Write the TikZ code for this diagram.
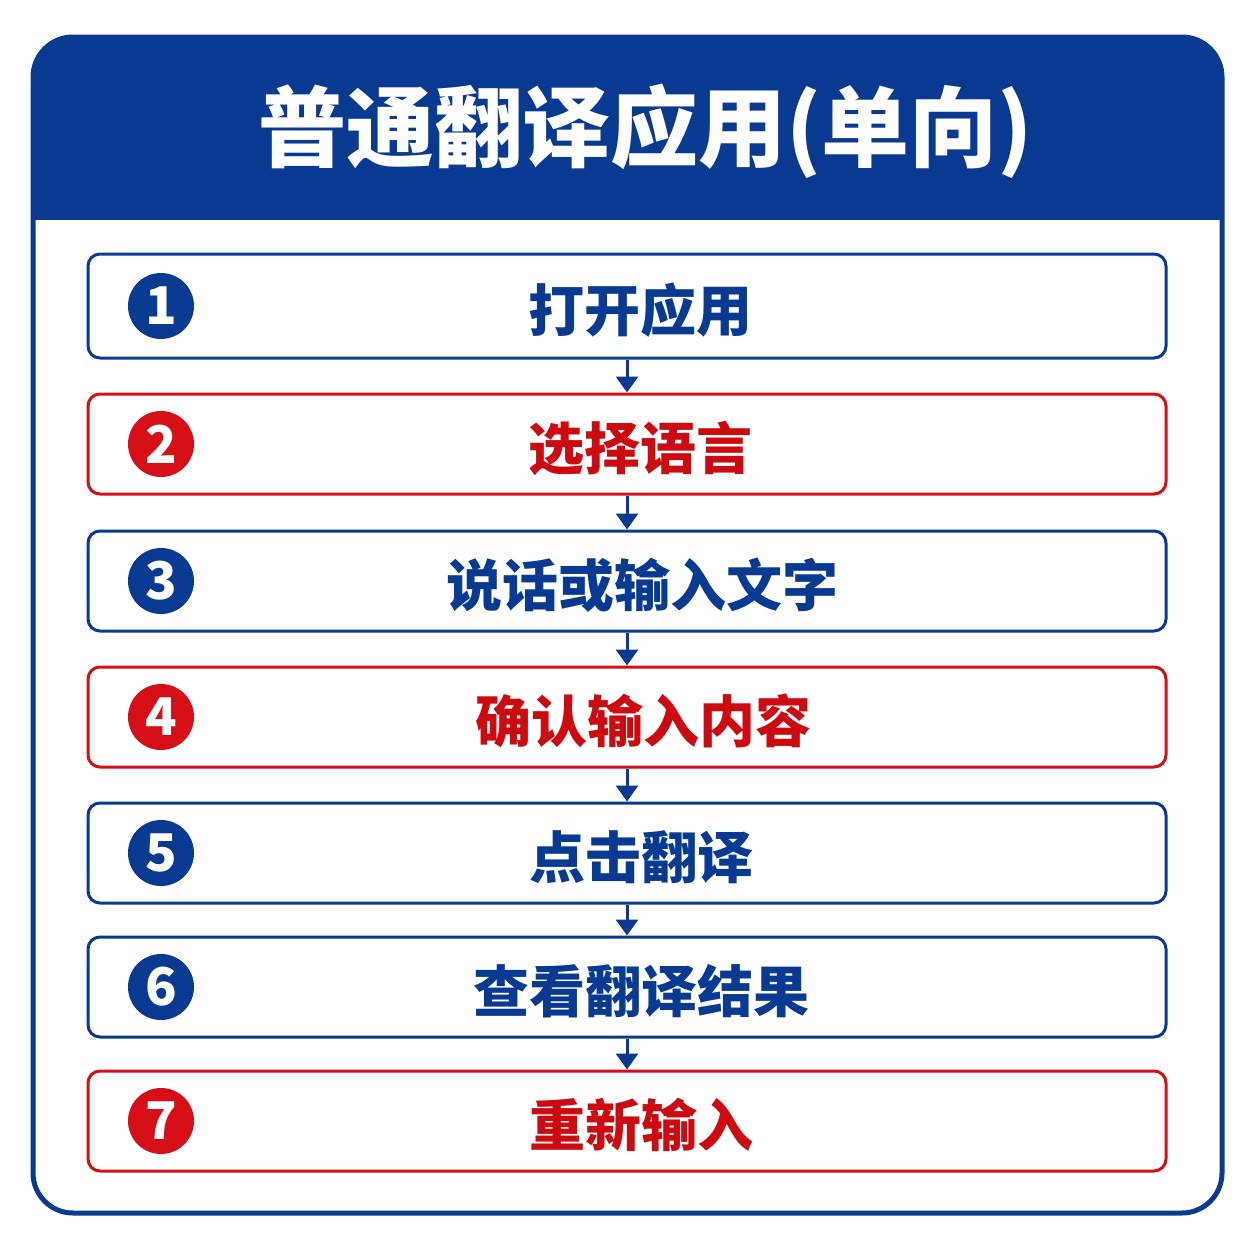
\documentclass[tikz,border=0pt]{standalone}
\usepackage{fontspec}
\setmainfont{Noto Sans CJK SC}
\usetikzlibrary{arrows.meta}
\definecolor{hdrblue}{RGB}{8,58,146}
\definecolor{stepred}{RGB}{214,14,22}
\definecolor{textred}{RGB}{204,10,16}
\tikzset{
  stepbox/.style={draw, line width=1.5pt, rounded corners=6pt, minimum width=539pt, minimum height=50pt, inner sep=0pt, fill=white},
  bluebox/.style={stepbox, draw=hdrblue},
  redbox/.style={stepbox, draw=stepred},
  numdot/.style={circle, inner sep=0pt, minimum size=33pt, text=white, font=\fontsize{26}{26}\selectfont\bfseries},
  steptext/.style={inner sep=0pt, font=\fontsize{28}{30}\selectfont\bfseries},
  flow/.style={hdrblue, line width=1.5pt, -{Triangle[width=11pt,length=8pt]}}
}
\begin{document}
\begin{tikzpicture}[x=0.5pt, y=-0.5pt]
\useasboundingbox (0,0) rectangle (1254,1254);
\begin{scope}
\clip[rounded corners=20pt] (33,37) rectangle (1222,1213);
\fill[white] (0,0) rectangle (1254,1254);
\fill[hdrblue] (0,0) rectangle (1254,220);
\end{scope}
\draw[hdrblue, line width=2.5pt, rounded corners=20pt] (33,37) rectangle (1222,1213);
\node[inner sep=0pt, text=white, font=\fontsize{44}{48}\selectfont\bfseries] (title) at (646,131) {普通翻译应用(单向)};

\node[bluebox, minimum height=52pt] (b1) at (627,306) {};
\node[numdot, fill=hdrblue] (n1) at (161,306) {1};
\node[steptext, text=hdrblue] (t1) at (640,310) {打开应用};

\node[redbox] (b2) at (627,444) {};
\node[numdot, fill=stepred] (n2) at (161,444) {2};
\node[steptext, text=textred] (t2) at (640,448) {选择语言};

\node[bluebox] (b3) at (627,581) {};
\node[numdot, fill=hdrblue] (n3) at (161,581) {3};
\node[steptext, text=hdrblue] (t3) at (642,585) {说话或输入文字};

\node[redbox] (b4) at (627,717) {};
\node[numdot, fill=stepred] (n4) at (161,717) {4};
\node[steptext, text=textred] (t4) at (643,721) {确认输入内容};

\node[bluebox] (b5) at (627,853) {};
\node[numdot, fill=hdrblue] (n5) at (161,853) {5};
\node[steptext, text=hdrblue] (t5) at (641,857) {点击翻译};

\node[bluebox] (b6) at (627,987) {};
\node[numdot, fill=hdrblue] (n6) at (161,987) {6};
\node[steptext, text=hdrblue] (t6) at (641,991) {查看翻译结果};

\node[redbox] (b7) at (627,1121) {};
\node[numdot, fill=stepred] (n7) at (161,1121) {7};
\node[steptext, text=textred] (t7) at (641,1125) {重新输入};

\draw[flow] (b1.south) -- (b2.north);
\draw[flow] (b2.south) -- (b3.north);
\draw[flow] (b3.south) -- (b4.north);
\draw[flow] (b4.south) -- (b5.north);
\draw[flow] (b5.south) -- (b6.north);
\draw[flow] (b6.south) -- (b7.north);
\end{tikzpicture}
\end{document}
